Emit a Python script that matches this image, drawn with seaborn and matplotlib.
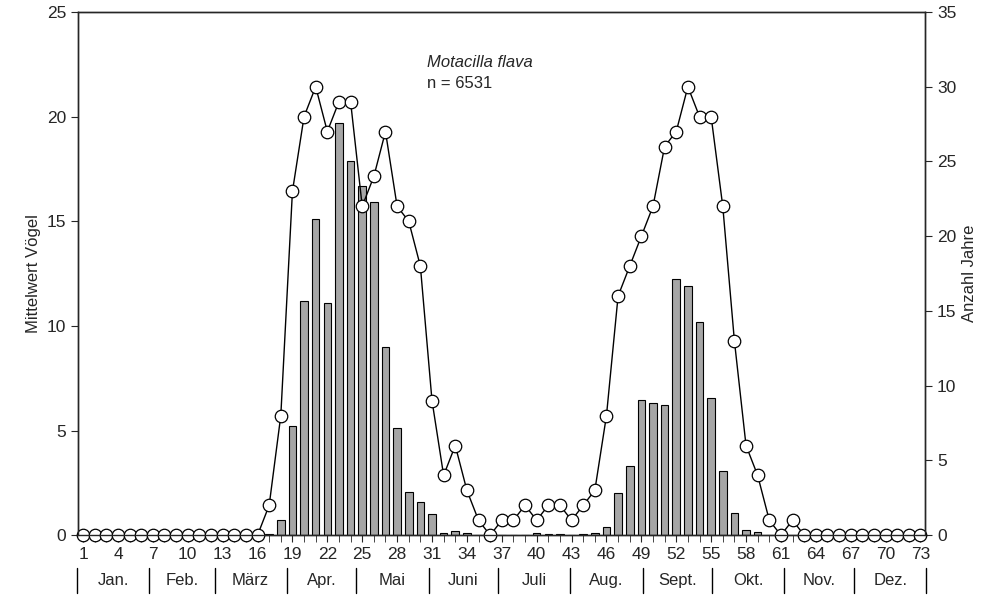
import numpy as np
import pandas as pd
import matplotlib
matplotlib.use("Agg")
import matplotlib.pyplot as plt
import seaborn as sns

pentads = list(range(1, 74))

# mean birds per pentad (left axis)
mean_birds = [0] * 16 + [
    0.05, 0.75, 5.2, 11.2, 15.1, 11.1, 19.7, 17.9, 16.7, 15.9, 9.0, 5.1, 2.05, 1.6, 1.0,
    0.1, 0.2, 0.1, 0.03, 0.0, 0.02, 0.03, 0.03, 0.1, 0.05, 0.05, 0.02, 0.05, 0.1, 0.4,
    2.0, 3.3, 6.44, 6.3, 6.2, 12.24, 11.92, 10.17, 6.57, 3.08, 1.04, 0.25, 0.15,
] + [0] * 14

# number of years with observations (right axis)
n_years = [0] * 16 + [
    2, 8, 23, 28, 30, 27, 29, 29, 22, 24, 27, 22, 21, 18, 9, 4, 6, 3, 1, 0,
    1, 1, 2, 1, 2, 2, 1, 2, 3, 8, 16, 18, 20, 22, 26, 27, 30, 28, 28, 22, 13, 6, 4, 1,
    0, 1,
] + [0] * 11

months = ["Jan.", "Feb.", "März", "Apr.", "Mai", "Juni", "Juli", "Aug.", "Sept.", "Okt.", "Nov.", "Dez."]
month_days = [31, 28, 31, 30, 31, 30, 31, 31, 30, 31, 30, 31]

df = pd.DataFrame({"pentade": pentads, "mittel": mean_birds, "jahre": n_years})

sns.set_style("ticks")
plt.rcParams["font.family"] = ["Liberation Sans", "DejaVu Sans"]

fig = plt.figure(figsize=(9.98, 5.98), dpi=100)
ax = fig.add_axes([0.078, 0.105, 0.849, 0.875])

sns.barplot(data=df, x="pentade", y="mittel", native_scale=True, width=0.65,
            color="#a6a6a6", edgecolor="black", linewidth=0.8, saturation=1, ax=ax)
ax.set_xlim(0.55, 73.4)
ax.set_ylim(0, 25)
ax.set_yticks(range(0, 26, 5))
ax.set_ylabel("Mittelwert Vögel", fontsize=12)
ax.set_xlabel("")
ax.set_xticks(range(1, 74, 3))
ax.set_xticks(pentads, minor=True)
ax.tick_params(axis="both", labelsize=12.5, length=5)
ax.tick_params(axis="x", which="minor", length=5)

ax2 = ax.twinx()
sns.lineplot(data=df, x="pentade", y="jahre", color="black", linewidth=1,
             marker="o", markersize=9, markerfacecolor="white", markeredgecolor="black",
             markeredgewidth=0.9, ax=ax2, clip_on=False)
ax2.set_ylim(0, 35)
ax2.set_yticks(range(0, 36, 5))
ax2.set_ylabel("Anzahl Jahre", fontsize=12)
ax2.tick_params(axis="y", labelsize=12.5, length=5)

for a in (ax, ax2):
    for s in a.spines.values():
        s.set_linewidth(1)

# month strip below the pentad numbers
bounds = 0.5 + np.concatenate([[0], np.cumsum(month_days)]) / 5.0
for b in bounds:
    ax.plot([b, b], [-0.062, -0.11], transform=ax.get_xaxis_transform(),
            color="black", linewidth=1, clip_on=False)
for i, name in enumerate(months):
    ax.text((bounds[i] + bounds[i + 1]) / 2, -0.086, name, transform=ax.get_xaxis_transform(),
            ha="center", va="center", fontsize=12)

ax.text(30.6, 22.6, "Motacilla flava", style="italic", fontsize=12, ha="left", va="center")
ax.text(30.6, 21.6, "n = 6531", fontsize=12, ha="left", va="center")

fig.savefig("out.png", dpi=100)
